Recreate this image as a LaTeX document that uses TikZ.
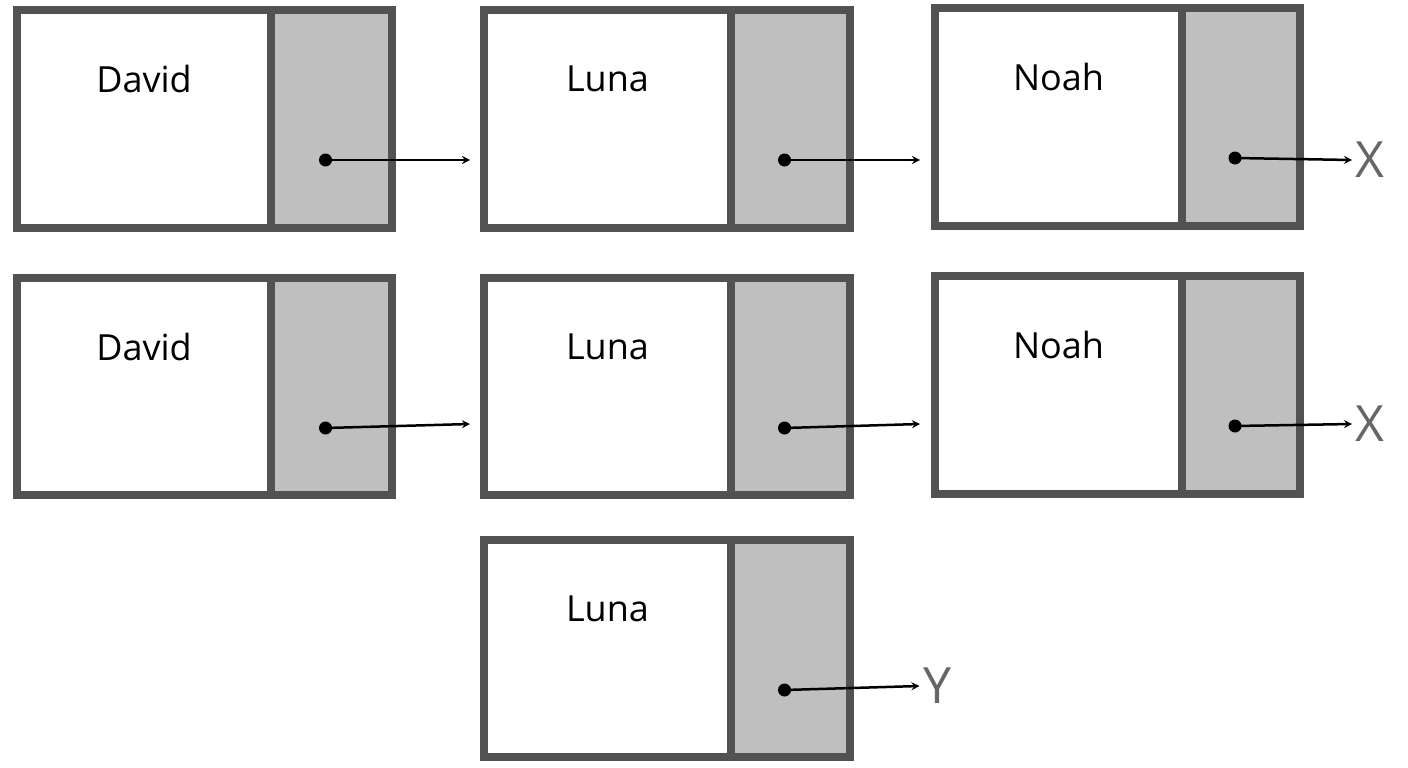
\documentclass[tikz,border=0pt]{standalone}
\usepackage{fontspec}
\setmainfont{Open Sans}
\begin{document}
\begin{tikzpicture}[x=1pt,y=-1pt,
  frame/.style={draw=black!68,line width=8pt,fill=white},
  cell/.style={fill=black!25},
  lbl/.style={font=\fontsize{36}{40}\selectfont},
  term/.style={font=\fontsize{50}{54}\selectfont,text=black!60},
  dot/.style={circle,fill=black,inner sep=0pt,minimum size=13pt},
  ptr/.style={-stealth,line width=2.5pt}]
\useasboundingbox (0,0) rectangle (1408,768);
\newcommand{\lnode}[7]{% name, x1,y1,x2,y2,divider,text
  \fill[white] (#2,#3) rectangle (#4,#5);
  \fill[cell] (#6,#3) rectangle (#4,#5);
  \draw[frame,fill=none] (#2,#3) rectangle (#4,#5);
  \draw[draw=black!68,line width=8pt] (#6,#3) -- (#6,#5);
  \node[lbl] (#1t) at ({(#2+#6)/2},{#3+(#5-#3)*0.5-40}) {#7};
  \node[dot] (#1d) at ({(#6+#4)/2-6},{#3+150}) {};
}
\lnode{a}{17}{10}{392}{228}{271}{David}
\lnode{b}{484}{10}{850}{228}{731}{Luna}
\lnode{c}{935}{8}{1300}{226}{1182}{Noah}
\lnode{d}{17}{278}{392}{495}{271}{David}
\lnode{e}{484}{278}{850}{495}{731}{Luna}
\lnode{f}{935}{276}{1300}{494}{1182}{Noah}
\lnode{g}{484}{540}{850}{757}{731}{Luna}
\node[term] (x1) at (1370,160) {X};
\node[term] (x2) at (1370,424) {X};
\node[term] (y1) at (937,686) {Y};
\coordinate (b1) at (470,160);
\coordinate (c1) at (920,160);
\coordinate (e1) at (470,424);
\coordinate (f1) at (920,424);
\draw[ptr] (ad.center) -- (b1);
\draw[ptr] (bd.center) -- (c1);
\draw[ptr] (cd.center) -- (x1.west);
\draw[ptr] (dd.center) -- (e1);
\draw[ptr] (ed.center) -- (f1);
\draw[ptr] (fd.center) -- (x2.west);
\draw[ptr] (gd.center) -- (y1.west);
\end{tikzpicture}
\end{document}
